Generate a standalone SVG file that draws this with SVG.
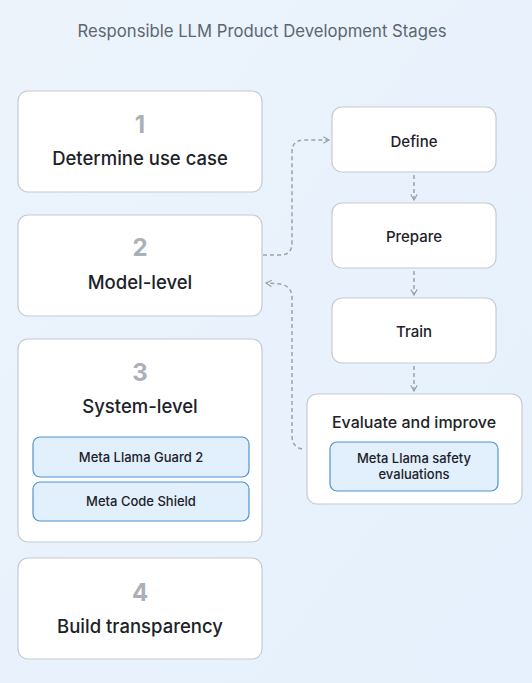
<svg xmlns="http://www.w3.org/2000/svg" width="532" height="683" viewBox="0 0 532 683">
<defs>
<linearGradient id="bg" x1="0" y1="0" x2="1" y2="1">
<stop offset="0" stop-color="#ecf3fb"/>
<stop offset="1" stop-color="#e6f1fd"/>
</linearGradient>
<marker id="arr" viewBox="0 0 10 10" refX="8" refY="5" markerWidth="8" markerHeight="8" orient="auto" markerUnits="userSpaceOnUse">
<path d="M1,1 L8,5 L1,9" fill="none" stroke="#9aa3ad" stroke-width="1.5"/>
</marker>
</defs>
<style>
.box{fill:#ffffff;stroke:#c5cad1;stroke-width:1.2}
.inner{fill:#e2effc;stroke:#4f93d2;stroke-width:1.2}
.num{font-family:Inter,"Noto Sans",sans-serif;font-weight:700;font-size:24px;fill:#a9b0b8;text-anchor:middle}
.lbl{font-family:Inter,"Noto Sans",sans-serif;font-weight:500;font-size:18.5px;fill:#1c2228;text-anchor:middle}
.sm{font-family:Inter,"Noto Sans",sans-serif;font-weight:500;font-size:15px;fill:#1c2228;text-anchor:middle}
.tiny{font-family:Inter,"Noto Sans",sans-serif;font-weight:500;font-size:13px;fill:#1c2228;text-anchor:middle}
.conn{fill:none;stroke:#9aa3ad;stroke-width:1.5;stroke-dasharray:4 3}
</style>
<rect width="532" height="683" fill="url(#bg)"/>
<text x="262" y="37" font-family="Inter,'Noto Sans',sans-serif" font-size="16.7" fill="#5b6670" text-anchor="middle">Responsible LLM Product Development Stages</text>

<g id="connectors">
<path class="conn" d="M263,255 H280 Q292,255 292,243 V152 Q292,140 304,140 H329" marker-end="url(#arr)"/>
<path class="conn" d="M302,449 Q292,447 292,436 V298 Q292,286 280,284 L266,283" marker-end="url(#arr)"/>
<path class="conn" d="M414,175 V200" marker-end="url(#arr)"/>
<path class="conn" d="M414,271 V295" marker-end="url(#arr)"/>
<path class="conn" d="M414,366 V391" marker-end="url(#arr)"/>
</g>

<g id="stage1">
<rect class="box" x="18" y="91" width="244" height="101" rx="10"/>
<text class="num" x="140" y="133">1</text>
<text class="lbl" x="140" y="165">Determine use case</text>
</g>
<g id="stage2">
<rect class="box" x="18" y="215" width="244" height="101" rx="10"/>
<text class="num" x="140" y="256">2</text>
<text class="lbl" x="140" y="289">Model-level</text>
</g>
<g id="stage3">
<rect class="box" x="18" y="339" width="244" height="203" rx="10"/>
<text class="num" x="140" y="381">3</text>
<text class="lbl" x="140" y="413">System-level</text>
<g id="guard">
<rect class="inner" x="33" y="437" width="216" height="40" rx="7"/>
<text class="tiny" x="141" y="462">Meta Llama Guard 2</text>
</g>
<g id="codeshield">
<rect class="inner" x="33" y="482" width="216" height="39" rx="7"/>
<text class="tiny" x="141" y="506">Meta Code Shield</text>
</g>
</g>
<g id="stage4">
<rect class="box" x="18" y="558" width="244" height="101" rx="10"/>
<text class="num" x="140" y="601">4</text>
<text class="lbl" x="140" y="633">Build transparency</text>
</g>

<g id="define">
<rect class="box" x="332" y="107" width="164" height="65" rx="10"/>
<text class="sm" x="414" y="147">Define</text>
</g>
<g id="prepare">
<rect class="box" x="332" y="203" width="164" height="65" rx="10"/>
<text class="sm" x="414" y="242">Prepare</text>
</g>
<g id="train">
<rect class="box" x="332" y="298" width="164" height="65" rx="10"/>
<text class="sm" x="414" y="337">Train</text>
</g>
<g id="evaluate">
<rect class="box" x="307" y="394" width="215" height="110" rx="10"/>
<text class="sm" x="414" y="428" style="font-size:16px">Evaluate and improve</text>
<g id="safety">
<rect class="inner" x="330" y="442" width="168" height="49" rx="7"/>
<text class="tiny" x="414" y="463">Meta Llama safety</text>
<text class="tiny" x="414" y="479">evaluations</text>
</g>
</g>
</svg>
